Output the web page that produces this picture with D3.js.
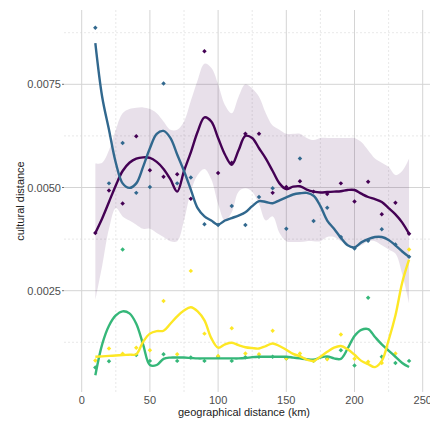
<!DOCTYPE html>
<html>
<head>
<meta charset="utf-8">
<script src="https://cdn.jsdelivr.net/npm/d3@7"></script>
<style>
  body { margin: 0; background: #fff; }
  text { font-family: "Liberation Sans", Arial, sans-serif; }
</style>
</head>
<body>
<div id="graph"></div>
<script>
const width = 430;
const height = 421;

// observed points, one per 10 km step
const distKm = [10, 20, 30, 40, 50, 60, 70, 80, 90, 100, 110, 120, 130, 140, 150, 160, 170, 180, 190, 200, 210, 220, 230, 240];
const purplePts = [0.0039, 0.00493, 0.00461, 0.00624, 0.00542, 0.00526, 0.00532, 0.00473, 0.0083, 0.00535, 0.0056, 0.0063, 0.0063, 0.00487, 0.00501, 0.00515, 0.0049, 0.00484, 0.0051, 0.00466, 0.00514, 0.00435, 0.00463, 0.00388];
const bluePts = [0.00887, 0.0051, 0.00608, 0.00487, 0.00501, 0.00752, 0.0051, 0.00524, 0.00411, 0.00409, 0.00455, 0.00409, 0.00477, 0.00498, 0.004, 0.0057, 0.00419, 0.00451, 0.0038, 0.00352, 0.00371, 0.00399, 0.00362, 0.00332];
const greenPts = [0.00064, 0.00079, 0.0035, 0.00094, 0.0008, 0.00096, 0.0008, 0.00088, 0.0008, 0.0009, 0.0008, 0.00089, 0.0009, 0.0009, 0.00086, 0.0009, 0.0008, 0.00086, 0.00106, 0.00069, 0.00233, 0.0009, 0.00075, 0.0008];
const yellowPts = [0.00081, 0.0011, 0.00097, 0.00112, 0.00106, 0.00225, 0.00096, 0.00298, 0.00146, 0.00092, 0.00159, 0.00098, 0.00096, 0.00153, 0.00086, 0.00098, 0.0008, 0.00084, 0.00144, 0.00085, 0.00078, 0.00075, 0.00098, 0.0035];

// smoothed curves, read every 5 km
const fitKm = [10, 15, 20, 25, 30, 35, 40, 45, 50, 55, 60, 65, 70, 75, 80, 85, 90, 95, 100, 105, 110, 115, 120, 125, 130, 135, 140, 145, 150, 155, 160, 165, 170, 175, 180, 185, 190, 195, 200, 205, 210, 215, 220, 225, 230, 235, 240];
const purpleFit = [0.0039, 0.00425, 0.00465, 0.00505, 0.0054, 0.0056, 0.0057, 0.00573, 0.00572, 0.00562, 0.00545, 0.0052, 0.0049, 0.0054, 0.00585, 0.00635, 0.0067, 0.0066, 0.0062, 0.0058, 0.00555, 0.0059, 0.00625, 0.0062, 0.00595, 0.0057, 0.0054, 0.0051, 0.00496, 0.00502, 0.00503, 0.00495, 0.0049, 0.00488, 0.00489, 0.0049, 0.00491, 0.00494, 0.00494, 0.00485, 0.00477, 0.00472, 0.00465, 0.0045, 0.00435, 0.00415, 0.00388];
const purpleLo = [0.00227, 0.0031, 0.004, 0.0045, 0.0043, 0.0042, 0.0041, 0.004, 0.004, 0.0039, 0.0038, 0.0037, 0.0037, 0.0042, 0.0049, 0.0053, 0.00545, 0.0052, 0.0046, 0.0042, 0.0044, 0.0049, 0.00498, 0.0049, 0.0046, 0.0042, 0.0043, 0.0039, 0.0037, 0.00368, 0.00368, 0.0037, 0.0037, 0.0037, 0.0038, 0.0038, 0.0037, 0.0036, 0.00356, 0.0036, 0.0037, 0.0037, 0.0036, 0.0035, 0.0034, 0.0029, 0.0022];
const purpleHi = [0.00558, 0.0056, 0.0059, 0.0064, 0.0068, 0.0069, 0.00693, 0.00694, 0.0069, 0.0068, 0.0066, 0.0064, 0.0064, 0.0066, 0.0071, 0.0076, 0.008, 0.0079, 0.0075, 0.007, 0.0068, 0.0072, 0.0075, 0.0074, 0.0072, 0.0068, 0.0065, 0.0064, 0.0063, 0.0063, 0.0063, 0.0062, 0.00615, 0.0062, 0.0062, 0.0062, 0.0062, 0.0062, 0.0062, 0.0061, 0.0059, 0.0057, 0.0056, 0.0055, 0.0053, 0.0054, 0.0057];
const blueFit = [0.0085, 0.0072, 0.0064, 0.0056, 0.0051, 0.00499, 0.0051, 0.0055, 0.00595, 0.0063, 0.00637, 0.0062, 0.0058, 0.0054, 0.00495, 0.0045, 0.0043, 0.0042, 0.0041, 0.0042, 0.00426, 0.00432, 0.0044, 0.00455, 0.00467, 0.00465, 0.00462, 0.00469, 0.00476, 0.00483, 0.00486, 0.00487, 0.0048, 0.00455, 0.0042, 0.004, 0.00378, 0.0036, 0.00355, 0.00367, 0.00375, 0.0038, 0.0038, 0.00373, 0.0036, 0.00345, 0.00332];
const greenFit = [0.00045, 0.0012, 0.00165, 0.0019, 0.002, 0.00195, 0.0017, 0.0012, 0.0007, 0.0007, 0.00085, 0.00088, 0.00088, 0.00088, 0.00087, 0.00086, 0.00086, 0.00086, 0.00086, 0.00086, 0.00086, 0.00086, 0.00087, 0.00089, 0.0009, 0.0009, 0.0009, 0.0009, 0.0009, 0.00088, 0.00086, 0.00084, 0.00083, 0.00088, 0.00091, 0.00086, 0.00085, 0.0011, 0.0014, 0.00155, 0.00157, 0.00138, 0.0012, 0.00105, 0.0009, 0.00075, 0.00065];
const yellowFit = [0.0009, 0.00091, 0.00092, 0.00093, 0.00094, 0.00095, 0.00096, 0.00126, 0.00146, 0.00152, 0.00153, 0.0017, 0.00188, 0.00202, 0.0021, 0.002, 0.00178, 0.00135, 0.00112, 0.0012, 0.00124, 0.00118, 0.00113, 0.00111, 0.0011, 0.00116, 0.00122, 0.00116, 0.00107, 0.00097, 0.00091, 0.00083, 0.0008, 0.0009, 0.00102, 0.00112, 0.00116, 0.00108, 0.00095, 0.0008, 0.00072, 0.00065, 0.0008, 0.0013, 0.0019, 0.0027, 0.00325];

const xMajor = [0, 50, 100, 150, 200, 250];
const xMinor = [25, 75, 125, 175, 225];
const yMajor = [0.0025, 0.005, 0.0075];
const yMinor = [0.00125, 0.00375, 0.00625, 0.00875];

const colors = ["#440154", "#31688E", "#35B779", "#FDE725"];

const panel = {left: 64, right: 430, top: 10, bottom: 392};

const svg = d3.select("#graph").append("svg")
  .attr("width", width)
  .attr("height", height);

svg.append("rect").attr("width", width).attr("height", height).attr("fill", "white");

const x = d3.scaleLinear().domain([0, 250]).range([81.7, 422.7]);
const y = d3.scaleLinear().domain([0.0025, 0.0075]).range([290.7, 84.3]);

// grid
const grid = svg.append("g");
grid.selectAll(".vminor").data(xMinor).join("line")
  .attr("x1", d => x(d)).attr("x2", d => x(d))
  .attr("y1", panel.top).attr("y2", panel.bottom)
  .attr("stroke", "#e2e2e2").attr("stroke-width", 0.8)
  .attr("stroke-dasharray", "2,2");
grid.selectAll(".hminor").data(yMinor).join("line")
  .attr("x1", panel.left).attr("x2", panel.right)
  .attr("y1", d => y(d)).attr("y2", d => y(d))
  .attr("stroke", "#e2e2e2").attr("stroke-width", 0.8)
  .attr("stroke-dasharray", "2,2");
grid.selectAll(".vmajor").data(xMajor).join("line")
  .attr("x1", d => x(d)).attr("x2", d => x(d))
  .attr("y1", panel.top).attr("y2", panel.bottom)
  .attr("stroke", "#d4d4d4").attr("stroke-width", 1);
grid.selectAll(".hmajor").data(yMajor).join("line")
  .attr("x1", panel.left).attr("x2", panel.right)
  .attr("y1", d => y(d)).attr("y2", d => y(d))
  .attr("stroke", "#d4d4d4").attr("stroke-width", 1);

// confidence band of the first curve
const band = fitKm.map((k, i) => ({k, lo: purpleLo[i], hi: purpleHi[i]}));
svg.append("path")
  .datum(band)
  .attr("fill", "#440154")
  .attr("opacity", 0.12)
  .attr("d", d3.area()
    .x(d => x(d.k))
    .y0(d => y(d.lo))
    .y1(d => y(d.hi))
    .curve(d3.curveCatmullRom));

// points (small diamonds)
const ptSets = [purplePts, bluePts, greenPts, yellowPts];
ptSets.forEach((vals, s) => {
  svg.append("g").selectAll("path")
    .data(vals.map((v, i) => ({k: distKm[i], v})))
    .join("path")
    .attr("transform", d => `translate(${x(d.k)},${y(d.v)}) rotate(45)`)
    .attr("d", d3.symbol().type(d3.symbolSquare).size(10))
    .attr("fill", colors[s]);
});

// fitted lines
const line = d3.line()
  .x(d => x(d.k))
  .y(d => y(d.v))
  .curve(d3.curveCatmullRom);

const fits = [purpleFit, blueFit, greenFit, yellowFit];
fits.forEach((vals, s) => {
  svg.append("path")
    .datum(vals.map((v, i) => ({k: fitKm[i], v})))
    .attr("fill", "none")
    .attr("stroke", colors[s])
    .attr("stroke-width", 2.4)
    .attr("d", line);
});

// axis labels
svg.append("g").selectAll("text").data(xMajor).join("text")
  .attr("x", d => x(d)).attr("y", 404)
  .attr("text-anchor", "middle")
  .attr("font-size", "11px")
  .attr("fill", "#4d4d4d")
  .text(d => d);

svg.append("g").selectAll("text").data(yMajor).join("text")
  .attr("x", 61).attr("y", d => y(d) + 4)
  .attr("text-anchor", "end")
  .attr("font-size", "11px")
  .attr("fill", "#4d4d4d")
  .text(d => d.toFixed(4));

svg.append("g").selectAll("line").data(yMajor).join("line")
  .attr("x1", 62).attr("x2", 64)
  .attr("y1", d => y(d)).attr("y2", d => y(d))
  .attr("stroke", "#4d4d4d").attr("stroke-width", 0.8);

svg.append("text")
  .attr("x", 244).attr("y", 416)
  .attr("text-anchor", "middle")
  .attr("font-size", "11px")
  .attr("fill", "#222")
  .text("geographical distance (km)");

svg.append("text")
  .attr("transform", `translate(24,${(panel.top + panel.bottom) / 2}) rotate(-90)`)
  .attr("text-anchor", "middle")
  .attr("font-size", "11px")
  .attr("fill", "#222")
  .text("cultural distance");
</script>
</body>
</html>
